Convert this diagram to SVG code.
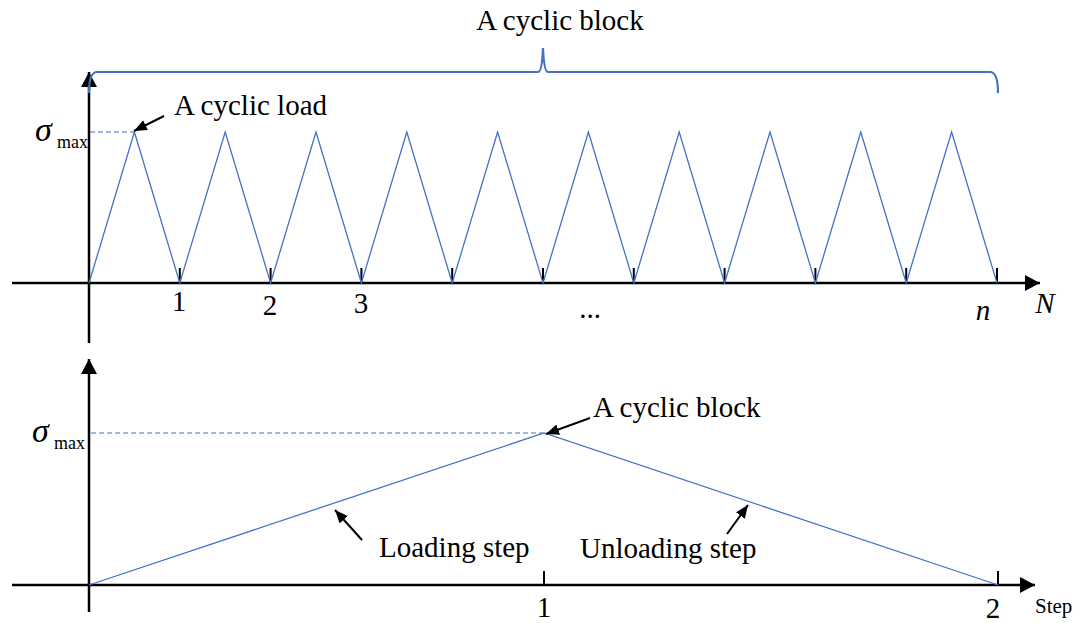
<svg xmlns="http://www.w3.org/2000/svg" width="1079" height="623" viewBox="0 0 1079 623">
<style>
.axis{stroke:#000;stroke-width:2.5;fill:none}
.tick{stroke:#000;stroke-width:2;fill:none}
.curve{stroke:#4472C4;stroke-width:1.3;fill:none}
.brace{stroke:#4472C4;stroke-width:2.2;fill:none}
.dash{stroke:#4472C4;stroke-width:1.2;stroke-dasharray:5,3;fill:none}
.call{stroke:#000;stroke-width:2;fill:none}
.t{font-family:"Liberation Serif","Times New Roman",serif;font-size:29px;fill:#000}
.i{font-style:italic}
.sig{font-family:"Liberation Serif","Times New Roman",serif;font-size:34px;font-style:italic;fill:#000}
.sub{font-family:"Liberation Serif","Times New Roman",serif;font-size:18px;fill:#000}
.small{font-family:"Liberation Serif","Times New Roman",serif;font-size:21px;fill:#000}
</style>
<defs>
<marker id="ax" markerUnits="userSpaceOnUse" markerWidth="16" markerHeight="16" refX="15" refY="8" orient="auto"><path d="M0,0 L15,8 L0,16 z" fill="#000"/></marker>
<marker id="ca" markerUnits="userSpaceOnUse" markerWidth="14" markerHeight="12" refX="13" refY="5.5" orient="auto"><path d="M0,0 L13,5.5 L0,11 z" fill="#000"/></marker>
</defs>
<g id="connectors">
<line class="axis" x1="89" y1="343" x2="89" y2="72" marker-end="url(#ax)"/>
<line class="axis" x1="12" y1="283" x2="1040" y2="283" marker-end="url(#ax)"/>
<path class="tick" d="M179.8,268V283M270.6,268V283M361.4,268V283M452.2,268V283M543,268V283M633.8,268V283M724.6,268V283M815.4,268V283M906.2,268V283M997,268V283"/>
<polyline class="curve" points="89,283 134.4,132 179.8,283 225.2,132 270.6,283 316,132 361.4,283 406.8,132 452.2,283 497.6,132 543,283 588.4,132 633.8,283 679.2,132 724.6,283 770,132 815.4,283 860.8,132 906.2,283 951.6,132 997,283"/>
<line class="dash" x1="90" y1="132" x2="134" y2="132"/>
<path class="brace" d="M89,93 Q89,72 97,72 L538,72 Q542,72 543,48 Q544,72 548,72 L990,72 Q998,72 998,93"/>
<line class="call" x1="164" y1="116" x2="134" y2="131" marker-end="url(#ca)"/>
<line class="axis" x1="89" y1="612" x2="89" y2="359" marker-end="url(#ax)"/>
<line class="axis" x1="12" y1="585" x2="1035" y2="585" marker-end="url(#ax)"/>
<path class="tick" d="M544,571V585M998,571V585"/>
<polyline class="curve" points="89,585 544,433 998,585"/>
<line class="dash" x1="91" y1="433" x2="543" y2="433"/>
<line class="call" x1="590" y1="418" x2="546" y2="434" marker-end="url(#ca)"/>
<line class="call" x1="362" y1="540" x2="335" y2="510" marker-end="url(#ca)"/>
<line class="call" x1="727" y1="534" x2="748" y2="505" marker-end="url(#ca)"/>
</g>
<g id="top-labels">
<text class="t" x="560" y="30" text-anchor="middle">A cyclic block</text>
<text class="t" x="174" y="115">A cyclic load</text>
<text class="sig" x="35" y="141">σ</text>
<text class="sub" x="57" y="148">max</text>
<text class="t" x="179" y="311" text-anchor="middle">1</text>
<text class="t" x="270" y="315" text-anchor="middle">2</text>
<text class="t" x="361" y="313" text-anchor="middle">3</text>
<text class="t" x="590" y="318" text-anchor="middle">...</text>
<text class="t i" x="983" y="320" text-anchor="middle">n</text>
<text class="t i" x="1045" y="313" text-anchor="middle">N</text>
</g>
<g id="bottom-labels">
<text class="sig" x="32" y="442">σ</text>
<text class="sub" x="54" y="449">max</text>
<text class="t" x="593" y="417">A cyclic block</text>
<text class="t" x="379" y="557">Loading step</text>
<text class="t" x="580" y="558">Unloading step</text>
<text class="t" x="544" y="617" text-anchor="middle">1</text>
<text class="t" x="993" y="618" text-anchor="middle">2</text>
<text class="small" x="1035" y="613">Step</text>
</g>
</svg>
